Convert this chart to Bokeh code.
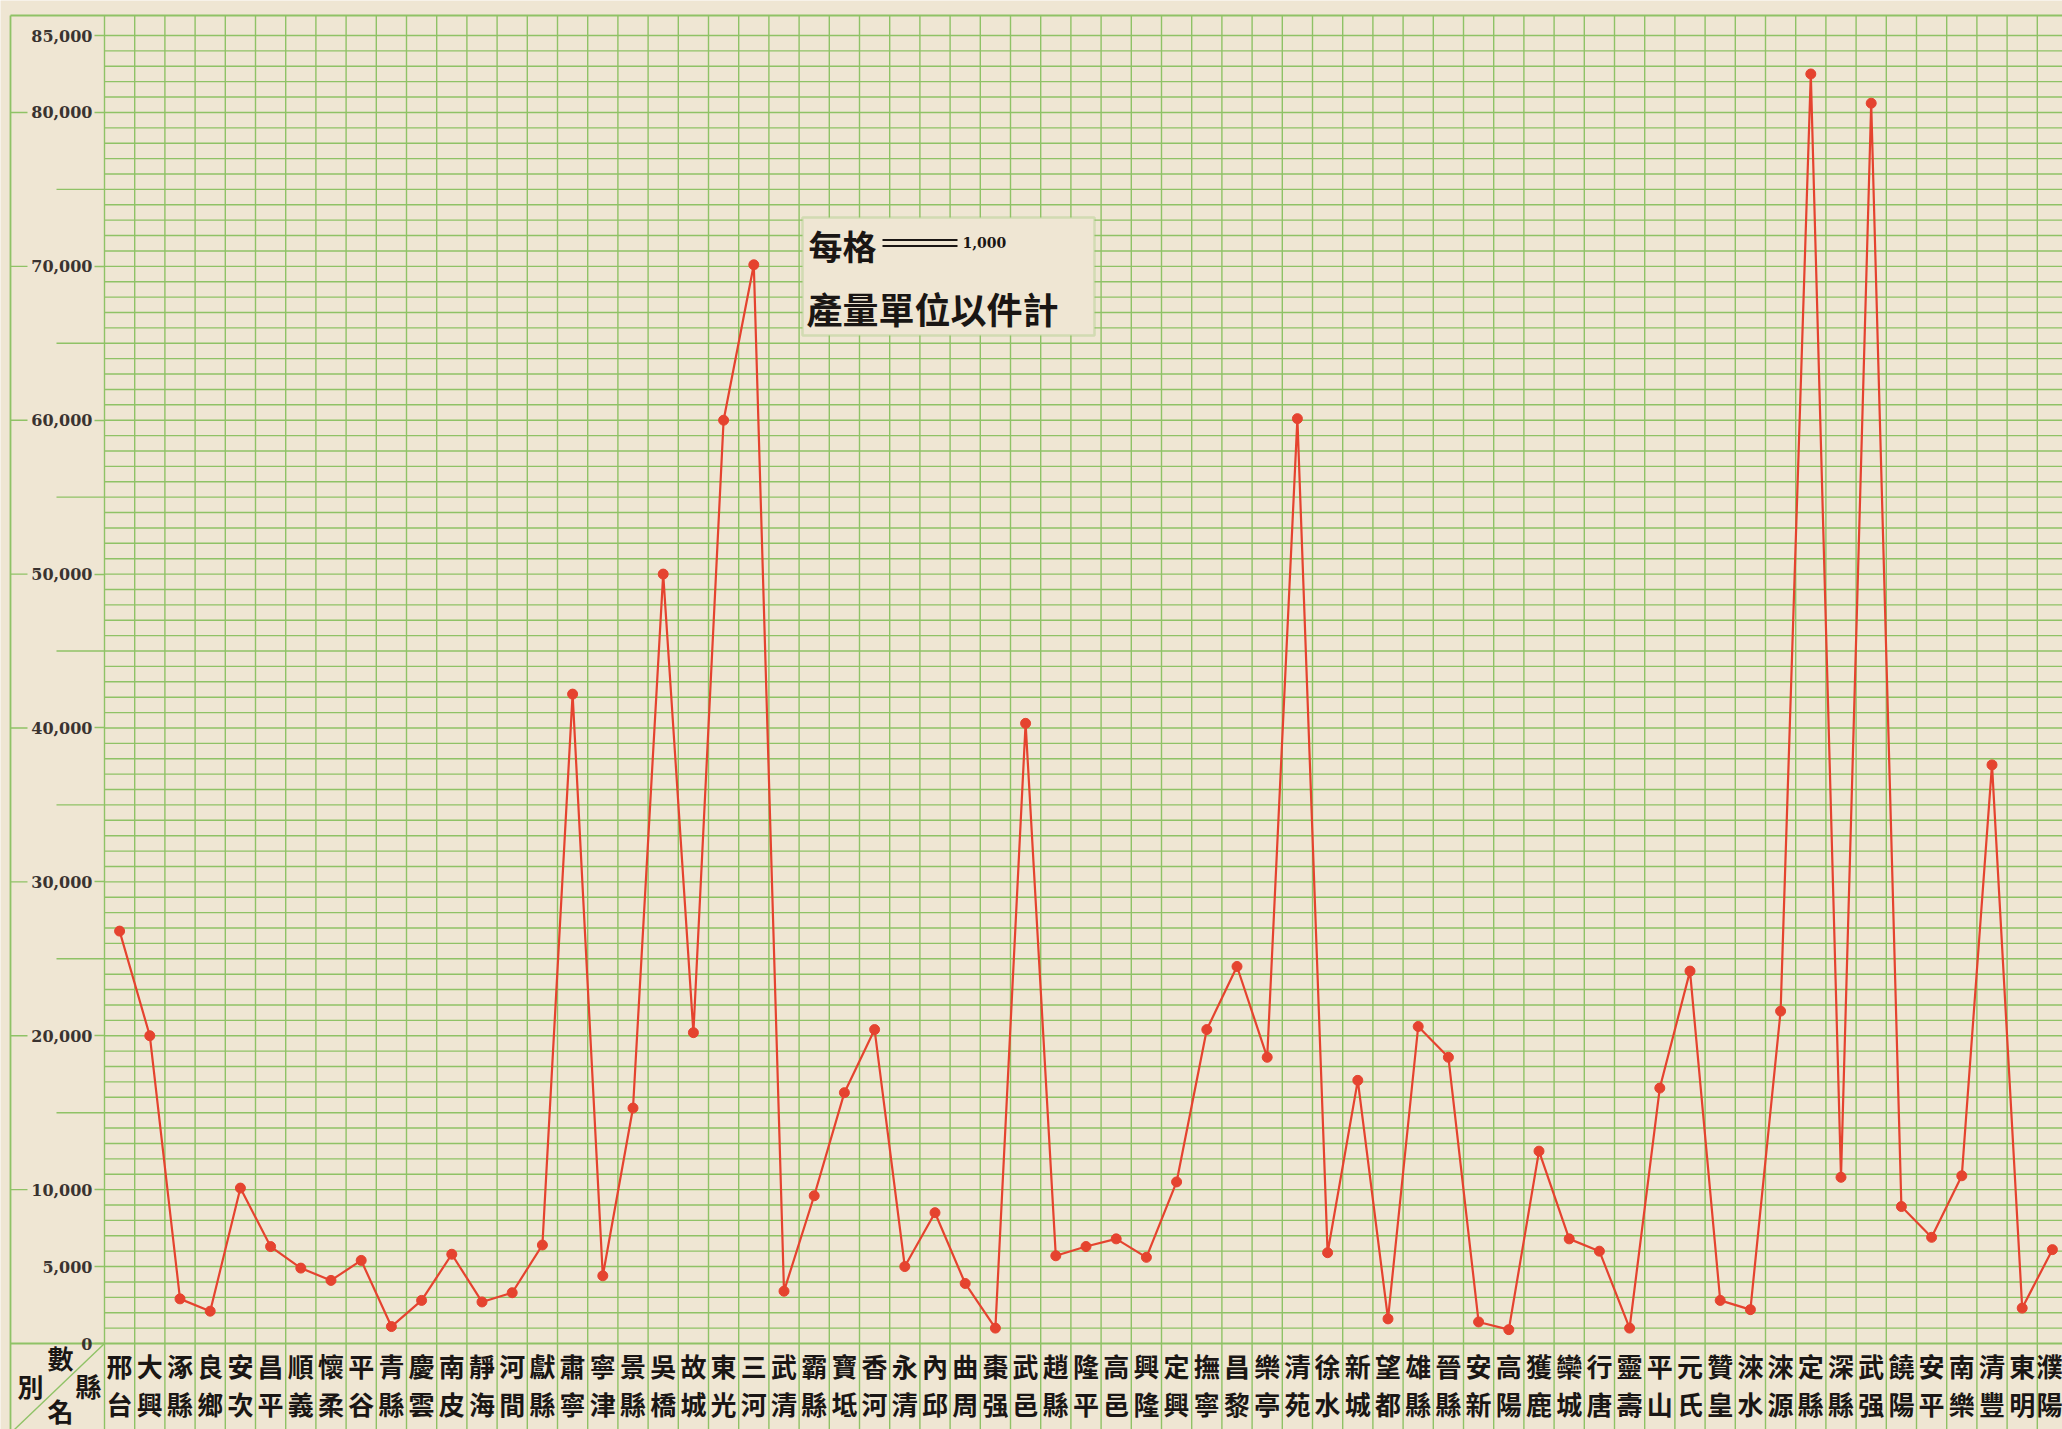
from bokeh.plotting import figure
from bokeh.models import FixedTicker, NumeralTickFormatter, BoxAnnotation, Label
from bokeh.embed import file_html
from bokeh.resources import INLINE

# ---------------- data ----------------
counties = ["邢台", "大興", "涿縣", "良鄉", "安次", "昌平", "順義", "懷柔", "平谷", "青縣",
            "慶雲", "南皮", "靜海", "河間", "獻縣", "肅寧", "寧津", "景縣", "吳橋", "故城",
            "東光", "三河", "武清", "霸縣", "寶坻", "香河", "永清", "內邱", "曲周", "棗强",
            "武邑", "趙縣", "隆平", "高邑", "興隆", "定興", "撫寧", "昌黎", "樂亭", "清苑",
            "徐水", "新城", "望都", "雄縣", "晉縣", "安新", "高陽", "獲鹿", "欒城", "行唐",
            "靈壽", "平山", "元氏", "贊皇", "淶水", "淶源", "定縣", "深縣", "武强", "饒陽",
            "安平", "南樂", "清豐", "東明", "濮陽"]

output = [26800, 20000, 2900, 2100, 10100, 6300, 4900, 4100, 5400, 1100,
          2800, 5800, 2700, 3300, 6400, 42200, 4400, 15300, 50000, 20200,
          60000, 70100, 3400, 9600, 16300, 20400, 5000, 8500, 3900, 1000,
          40300, 5700, 6300, 6800, 5600, 10500, 20400, 24500, 18600, 60100,
          5900, 17100, 1600, 20600, 18600, 1400, 900, 12500, 6800, 6000,
          1000, 16600, 24200, 2800, 2200, 21600, 82500, 10800, 80600, 8900,
          6900, 10900, 37600, 2300, 6100]

y_tick_values = [0, 5000, 10000, 20000, 30000, 40000, 50000, 60000, 70000, 80000, 85000]
y_half_ticks = [15000, 25000, 35000, 45000, 55000, 65000, 75000]
y_long_ticks = [10000, 20000, 30000, 40000, 50000, 60000, 70000, 80000]
grid_step = 1000
grid_max = 85000
note_line1 = "每格"
note_unit = "1,000"
note_line2 = "產量單位以件計"
corner_texts = ["數", "別", "縣", "名"]

# ---------------- style / layout ----------------
PAPER = "#efe6d3"
GREEN = "#8fc266"
RED = "#e5432f"
INK = "#1a1614"
CJK = "Noto Sans CJK TC"

W, H = 2062, 1429                # canvas = page pixels
PLOT_LEFT = 104                  # x = -0.5 here
ZERO_Y = 1343                    # y = 0 here (from top)
PXC = 30.2                       # px per county column
Y_TOP = 86300                    # top border of the ruled area
PXY = (ZERO_Y - 15) / Y_TOP      # px per unit

X_START = -0.5 - PLOT_LEFT / PXC
X_END = -0.5 + (W - PLOT_LEFT) / PXC
Y_START = -(H - ZERO_Y) / PXY
Y_END = ZERO_Y / PXY


def xd(px):
    return -0.5 + (px - PLOT_LEFT) / PXC


def yd(py):
    return (ZERO_Y - py) / PXY


n = len(counties)
xs = list(range(n))

p = figure(width=W, height=H, x_range=(X_START, X_END), y_range=(Y_START, Y_END),
           output_backend="svg", toolbar_location=None)
p.min_border_left = 0
p.min_border_right = 0
p.min_border_top = 0
p.min_border_bottom = 0
p.background_fill_color = PAPER
p.border_fill_color = PAPER
p.outline_line_color = None
p.xgrid.visible = False
p.ygrid.visible = False

# ---- ruled paper ----
bounds = [i - 0.5 for i in range(n + 1)]
p.segment(x0=bounds, y0=[Y_START] * len(bounds), x1=bounds, y1=[Y_TOP] * len(bounds),
          line_color=GREEN, line_width=1.4)
hl = list(range(grid_step, grid_max + 1, grid_step))
p.segment(x0=[-0.5] * len(hl), y0=hl, x1=[X_END] * len(hl), y1=hl,
          line_color=GREEN, line_width=1.4)
frame_left = xd(10)
p.segment(x0=[frame_left, frame_left, frame_left], y0=[Y_START, Y_TOP, 0],
          x1=[frame_left, X_END, X_END], y1=[Y_TOP, Y_TOP, 0],
          line_color=GREEN, line_width=1.8)
# stubs in the left margin: left of the 10,000 labels, and the unlabelled 5,000 marks
p.segment(x0=[frame_left] * len(y_long_ticks), y0=y_long_ticks,
          x1=[xd(27)] * len(y_long_ticks), y1=y_long_ticks,
          line_color=GREEN, line_width=1.4)
p.segment(x0=[xd(56)] * len(y_half_ticks), y0=y_half_ticks,
          x1=[-0.5] * len(y_half_ticks), y1=y_half_ticks,
          line_color=GREEN, line_width=1.4)
# header cell diagonal
p.segment(x0=[-0.5], y0=[0], x1=[xd(14)], y1=[yd(1429)], line_color=GREEN, line_width=1.4)

# ---- axes drawn inside the canvas ----
xa = p.xaxis[0]
xa.fixed_location = 0
xa.ticker = FixedTicker(ticks=xs)
xa.major_label_overrides = {i: "\n".join(nm) for i, nm in enumerate(counties)}
xa.major_label_text_font = CJK
xa.major_label_text_font_style = "bold"
xa.major_label_text_font_size = "26px"
xa.major_label_text_color = INK
xa.major_label_text_line_height = 1.04
xa.major_label_standoff = 3
xa.major_tick_line_color = None
xa.major_tick_out = 0
xa.major_tick_in = 0
xa.minor_tick_line_color = None
xa.minor_tick_out = 0
xa.minor_tick_in = 0
xa.axis_line_color = None

ya = p.yaxis[0]
ya.fixed_location = -0.5
ya.ticker = FixedTicker(ticks=y_tick_values, minor_ticks=[])
ya.formatter = NumeralTickFormatter(format="0,0")
ya.major_label_text_font = "DejaVu Serif"
ya.major_label_text_font_style = "bold"
ya.major_label_text_font_size = "16px"
ya.major_label_text_color = "#3a3330"
ya.major_label_standoff = 2
ya.major_tick_line_color = GREEN
ya.major_tick_line_width = 1.4
ya.major_tick_in = 0
ya.major_tick_out = 10
ya.minor_tick_line_color = None
ya.minor_tick_in = 0
ya.minor_tick_out = 0
ya.axis_line_color = None

# ---- the data line ----
p.line(xs, output, line_color=RED, line_width=2.2)
p.scatter(xs, output, size=10, fill_color=RED, line_color=RED)

# ---- header cell texts ----
corner_pos = [(60, 1357), (30, 1385), (88, 1385), (60, 1410)]
for t, (cx, cy) in zip(corner_texts, corner_pos):
    p.add_layout(Label(x=xd(cx), y=yd(cy), text=t, text_align="center", text_baseline="middle",
                       text_font=CJK, text_font_style="bold", text_font_size="26px",
                       text_color=INK))

# ---- note box ----
p.add_layout(BoxAnnotation(left=xd(802), right=xd(1094), bottom=yd(335), top=yd(217),
                           fill_color=PAPER, fill_alpha=1.0, line_color=GREEN, line_width=2.5))
p.add_layout(Label(x=xd(808), y=yd(245), text=note_line1, text_align="left", text_baseline="middle",
                   text_font=CJK, text_font_style="bold", text_font_size="34px", text_color=INK))
p.segment(x0=[xd(882), xd(882)], y0=[yd(239.5), yd(245.5)], x1=[xd(957), xd(957)],
          y1=[yd(239.5), yd(245.5)], line_color=INK, line_width=2, level="overlay")
p.add_layout(Label(x=xd(962), y=yd(242), text=note_unit, text_align="left", text_baseline="middle",
                   text_font="DejaVu Serif", text_font_style="bold", text_font_size="14px",
                   text_color=INK))
p.add_layout(Label(x=xd(806), y=yd(307), text=note_line2, text_align="left", text_baseline="middle",
                   text_font=CJK, text_font_style="bold", text_font_size="36px", text_color=INK))

open("out.html", "w").write(file_html(p, INLINE))
